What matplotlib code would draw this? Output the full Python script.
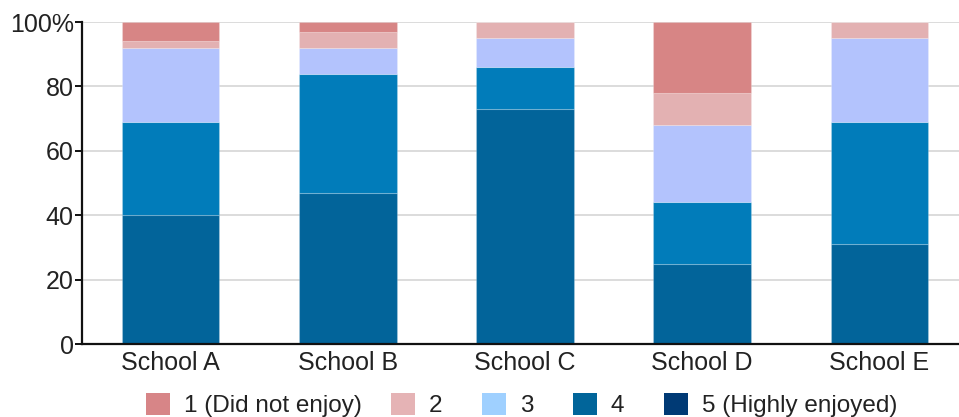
import matplotlib
matplotlib.use("Agg")
import matplotlib.pyplot as plt
from matplotlib.patches import Patch
import numpy as np

plt.rcParams['font.family'] = ['Liberation Sans', 'DejaVu Sans']

schools = ["School A", "School B", "School C", "School D", "School E"]
rating_labels = ["1 (Did not enjoy)", "2", "3", "4", "5 (Highly enjoyed)"]

# percentage of responses per rating, stacked from rating 5 at the bottom
r5 = [40, 47, 73, 25, 31]
r4 = [29, 37, 13, 19, 38]
r3 = [23, 8, 9, 24, 26]
r2 = [2, 5, 5, 10, 5]
r1 = [6, 3, 0, 22, 0]

bar_colors = {"5": "#02649a", "4": "#017cba", "3": "#b3c3fd", "2": "#e3b1b2", "1": "#d78585"}
legend_colors = ["#d78587", "#e5b3b5", "#9fd0ff", "#01659a", "#003a75"]
# left edge (pixels) of each legend entry along the bottom row
legend_x_px = [146, 391, 482, 573, 664]

fig = plt.figure(figsize=(9.59, 4.17), dpi=100)
ax = fig.add_axes([82 / 959, 73 / 417, 877 / 959, 322 / 417])

x = np.arange(len(schools))
width = 0.55
bottom = np.zeros(len(schools))
for key, vals in [("5", r5), ("4", r4), ("3", r3), ("2", r2), ("1", r1)]:
    vals = np.array(vals, dtype=float)
    ax.bar(x, vals, width, bottom=bottom, color=bar_colors[key],
           edgecolor=(1, 1, 1, 0.2), linewidth=0.8, zorder=2)
    bottom += vals

ax.set_xlim(-0.5, 4.449)
ax.set_ylim(0, 100)
ax.set_yticks([0, 20, 40, 60, 80, 100])
ax.set_yticklabels(["0", "20", "40", "60", "80", "100%"])
ax.set_xticks(x)
ax.set_xticklabels(schools)

ax.grid(axis='y', color='#d9d9d9', linewidth=1.3, zorder=0)
ax.set_axisbelow(True)
for s in ["top", "right"]:
    ax.spines[s].set_visible(False)
for s in ["left", "bottom"]:
    ax.spines[s].set_color("#111111")
    ax.spines[s].set_linewidth(1.6)
    ax.spines[s].set_zorder(3)

ax.tick_params(axis='y', length=5, width=1.4, color="#111111", pad=1,
               labelsize=18, labelcolor="#222222")
ax.tick_params(axis='x', length=0, pad=5, labelsize=18, labelcolor="#222222")

# one legend box per entry so each sits at its own slot in the row
for color, label, px in zip(legend_colors, rating_labels, legend_x_px):
    leg = fig.legend([Patch(facecolor=color, edgecolor='none')], [label],
                     loc='center left', bbox_to_anchor=(px / 959, 12 / 417),
                     frameon=False, fontsize=17.5, handlelength=1.0, handleheight=1.0,
                     handletextpad=0.55, labelcolor="#222222",
                     borderpad=0, borderaxespad=0)

fig.savefig("out.png", dpi=100)
